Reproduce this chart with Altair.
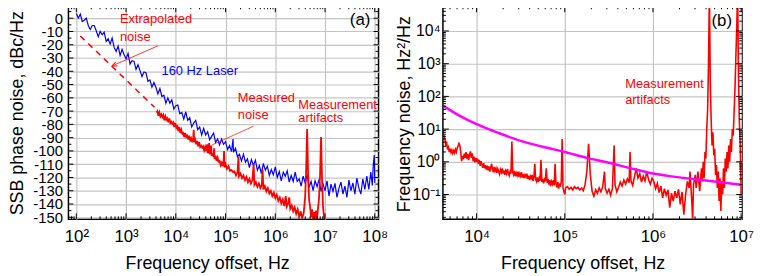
import altair as alt
import pandas as pd

FONT = "Liberation Sans"
GRID = "#c4c4c4"

# ---------------- Panel (a): SSB phase noise ----------------
A_BLUE_LF = [2.00, 2.04, 2.08, 2.12, 2.16, 2.20, 2.24, 2.28, 2.32, 2.36, 2.40, 2.44, 2.48, 2.52, 2.56, 2.60,
             2.64, 2.68, 2.72, 2.76, 2.80, 2.84, 2.88, 2.92, 2.96, 3.00, 3.04, 3.08, 3.12, 3.16, 3.20, 3.24,
             3.28, 3.32, 3.36, 3.40, 3.44, 3.48, 3.52, 3.56, 3.60, 3.64, 3.68, 3.72, 3.76, 3.80, 3.84, 3.88,
             3.92, 3.96, 4.00, 4.04, 4.08, 4.12, 4.16, 4.20, 4.24, 4.28, 4.32, 4.36, 4.40, 4.44, 4.48, 4.52,
             4.56, 4.60, 4.64, 4.68, 4.72, 4.76, 4.80, 4.84, 4.88, 4.92, 4.96, 5.00, 5.04, 5.08, 5.12, 5.15,
             5.16, 5.20, 5.24, 5.28, 5.32, 5.36, 5.40, 5.44, 5.48, 5.52, 5.56, 5.60, 5.64, 5.68, 5.72, 5.76,
             5.80, 5.84, 5.88, 5.92, 5.96, 6.00, 6.04, 6.08, 6.12, 6.16, 6.20, 6.24, 6.28, 6.32, 6.36, 6.40,
             6.44, 6.48, 6.52, 6.56, 6.60, 6.64, 6.68, 6.72, 6.76, 6.80, 6.84, 6.88, 6.92, 6.96, 7.00, 7.04,
             7.08, 7.12, 7.16, 7.20, 7.24, 7.28, 7.32, 7.36, 7.40, 7.44, 7.48, 7.52, 7.56, 7.60, 7.64, 7.68,
             7.72, 7.76, 7.80, 7.84, 7.88, 7.92, 7.95, 7.97, 7.99, 8.00]
A_BLUE_DB = [3.5, 0, 3, -2.5, -1.5, 0, -5.5, -8.5, -5.5, -5.5, -9.5, -14, -10, -12.5, -10.5, -17.5,
             -15.5, -19.5, -15, -22, -25, -21, -28, -23.5, -27.5, -30.5, -26.5, -34.5, -32, -32.5, -38.5, -35,
             -39.5, -44, -40.5, -41, -47.5, -46.5, -52, -48.5, -52, -57, -53, -59, -58, -64, -60, -64,
             -61.5, -68.5, -66, -65.5, -72, -71, -76, -70.5, -77, -75, -82, -79, -77, -84, -82, -88,
             -83, -88, -85.5, -91.5, -89, -86.5, -93.5, -91, -95.5, -91, -95, -93, -99, -96, -100.5, -91,
             -101, -98, -104.5, -102.5, -107.5, -102.5, -108.5, -106, -112.5, -106.5, -111, -107, -114.5, -111, -117, -109.5,
             -114.5, -111.5, -118.5, -114, -118, -112, -120, -115.5, -122.5, -116, -119, -115, -123.5, -118.5, -123, -116,
             -123, -121, -126.5, -119, -124, -118, -127, -123, -130, -122.5, -127, -121.5, -130.5, -125, -130, -122.5,
             -134, -125, -130.5, -124.5, -135, -128, -123.5, -132.5, -126.5, -135, -122, -130, -124, -132.5, -120.5, -128,
             -132.5, -121, -129, -119, -129, -116, -126, -110, -103, -124]

A_RED_LF = [3.61, 3.63, 3.65, 3.67, 3.69, 3.71, 3.73, 3.75, 3.77, 3.79, 3.81, 3.83, 3.85, 3.87, 3.89, 3.91,
            3.93, 3.95, 3.97, 3.99, 4.01, 4.03, 4.05, 4.07, 4.09, 4.11, 4.13, 4.15, 4.17, 4.19, 4.21, 4.23,
            4.25, 4.27, 4.29, 4.31, 4.33, 4.35, 4.36, 4.37, 4.39, 4.41, 4.43, 4.45, 4.47, 4.49, 4.51, 4.53,
            4.55, 4.57, 4.59, 4.61, 4.63, 4.64, 4.66, 4.67, 4.68, 4.70, 4.71, 4.72, 4.74, 4.76, 4.77, 4.78,
            4.80, 4.82, 4.84, 4.86, 4.88, 4.90, 4.92, 4.94, 4.96, 4.97, 4.98, 5.00, 5.03, 5.06, 5.09, 5.12,
            5.15, 5.18, 5.21, 5.24, 5.26, 5.27, 5.30, 5.33, 5.36, 5.39, 5.42, 5.45, 5.48, 5.51, 5.54, 5.565,
            5.58, 5.61, 5.64, 5.67, 5.70, 5.73, 5.745, 5.76, 5.79, 5.82, 5.85, 5.88, 5.91, 5.94, 5.97, 6.00,
            6.03, 6.06, 6.09, 6.12, 6.15, 6.18, 6.21, 6.23, 6.26, 6.28, 6.30, 6.33, 6.36, 6.39, 6.42, 6.45,
            6.48, 6.51, 6.54, 6.57, 6.60, 6.62, 6.64, 6.66, 6.68, 6.70, 6.72, 6.74, 6.76, 6.78, 6.80, 6.82,
            6.84, 6.86, 6.88, 6.90, 6.92, 6.94, 6.96, 6.98, 7.00]
A_RED_DB = [-71, -70, -73.5, -71, -74, -72.5, -74.5, -73, -77, -74, -76.5, -75.5, -78.5, -75.5, -79, -78,
            -79.5, -78.5, -82, -79, -82.5, -81.5, -85, -82, -86.5, -84, -87, -86.5, -89.5, -86.5, -89.5, -88.5,
            -91.5, -88.5, -92, -90.5, -93.5, -90.5, -84, -93.5, -91.5, -95, -92.5, -96.5, -93.5, -97, -96, -97.5,
            -96.5, -99.5, -97, -100, -95, -101.5, -99, -94, -102.5, -100, -96, -103, -102.5, -104.5, -98, -106,
            -103.5, -107.5, -105, -108, -107.5, -110.5, -108, -111.5, -109, -100, -112.5, -110, -113.5, -111.5, -115, -114.5,
            -116, -115.5, -118.5, -116, -104.5, -119, -117, -120.5, -118.5, -122, -119.5, -123.5, -121, -124.5, -122, -110,
            -125.5, -123.5, -127, -124.5, -128, -125.5, -114, -129, -126.5, -130.5, -128, -132, -130, -134, -131.5, -135.5,
            -133, -137.5, -135, -139.5, -136.5, -141.5, -134, -142, -139.5, -135, -143.5, -141, -145.5, -142.5, -147.5, -144,
            -149.5, -145.5, -151, -147, -135, -115, -83.5, -118, -137, -142, -150, -144, -152, -146, -154, -145,
            -151, -143, -135, -118, -89.5, -122, -142, -150, -158]

A_EXTRAP_LF = [2.08, 3.57]
A_EXTRAP_DB = [-13.4, -67.0]

A_XEXP = [2, 3, 4, 5, 6, 7, 8]
A_YTICKS = list(range(-150, 1, 10))

A_ANN_TEXT = ["Extrapolated", "noise", "160 Hz Laser", "Measured", "noise", "Measurement", "artifacts", "(a)"]
A_ANN_LF = [2.876, 2.876, 3.713, 5.247, 5.247, 6.462, 6.462, 7.498]
A_ANN_DB = [-3.7, -17.2, -42.5, -63.4, -76.1, -68.7, -78.4, -5.2]
A_ANN_COLOR = ["#ff0000", "#ff0000", "#0000ff", "#ff0000", "#ff0000", "#ff0000", "#ff0000", "#000000"]
A_ANN_SIZE = [13, 13, 13, 13, 13, 13, 13, 17]

A_ARROW_LF = [3.647, 2.717]
A_ARROW_DB = [-20.7, -36.0]
A_POINTER_LF = [5.566, 4.73]
A_POINTER_DB = [-81.3, -95.5]

# ---------------- Panel (b): frequency noise ----------------
B_RED_LF = [3.63, 3.64, 3.65, 3.66, 3.67, 3.68, 3.69, 3.70, 3.71, 3.72, 3.73, 3.74, 3.75, 3.76, 3.77, 3.78,
            3.79, 3.80, 3.81, 3.82, 3.83, 3.84, 3.85, 3.86, 3.87, 3.88, 3.89, 3.90, 3.91, 3.92, 3.93, 3.94,
            3.95, 3.96, 3.97, 3.98, 3.99, 4.00, 4.01, 4.02, 4.03, 4.04, 4.05, 4.06, 4.07, 4.08, 4.09, 4.10,
            4.11, 4.12, 4.13, 4.14, 4.15, 4.16, 4.17, 4.18, 4.19, 4.20, 4.21, 4.22, 4.23, 4.24, 4.25, 4.26,
            4.27, 4.28, 4.29, 4.30, 4.31, 4.32, 4.33, 4.34, 4.35, 4.36, 4.37, 4.38, 4.39, 4.40, 4.41, 4.42,
            4.43, 4.44, 4.45, 4.46, 4.47, 4.48, 4.49, 4.50, 4.51, 4.52, 4.53, 4.54, 4.55, 4.56, 4.57, 4.58,
            4.59, 4.60, 4.61, 4.62, 4.63, 4.64, 4.65, 4.66, 4.67, 4.68, 4.69, 4.70, 4.71, 4.72, 4.73, 4.74,
            4.75, 4.76, 4.77, 4.78, 4.79, 4.80, 4.81, 4.82, 4.83, 4.84, 4.85, 4.86, 4.87, 4.88, 4.89, 4.90,
            4.91, 4.92, 4.93, 4.94, 4.95, 4.96, 4.97, 4.98, 4.99, 5.00, 5.01, 5.03, 5.05, 5.07, 5.09, 5.11,
            5.13, 5.15, 5.17, 5.19, 5.21, 5.23, 5.25, 5.27, 5.29, 5.31, 5.33, 5.35, 5.37, 5.39, 5.41, 5.43,
            5.45, 5.46, 5.48, 5.50, 5.52, 5.54, 5.56, 5.57, 5.59, 5.61, 5.63, 5.65, 5.67, 5.69, 5.71, 5.73,
            5.74, 5.75, 5.77, 5.79, 5.81, 5.83, 5.85, 5.87, 5.89, 5.91, 5.93, 5.95, 5.97, 5.99, 6.01, 6.03,
            6.05, 6.07, 6.09, 6.11, 6.13, 6.15, 6.17, 6.19, 6.21, 6.23, 6.25, 6.27, 6.29, 6.31, 6.33, 6.35,
            6.37, 6.39, 6.41, 6.42, 6.44, 6.45, 6.46, 6.48, 6.49, 6.51, 6.53, 6.55, 6.56, 6.57, 6.58, 6.59,
            6.60, 6.61, 6.62, 6.63, 6.64, 6.65, 6.66, 6.67, 6.68, 6.69, 6.70, 6.71, 6.72, 6.73, 6.74, 6.75,
            6.76, 6.77, 6.78, 6.79, 6.80, 6.81, 6.82, 6.83, 6.84, 6.85, 6.86, 6.87, 6.88, 6.89, 6.90, 6.91,
            6.92, 6.93, 6.94, 6.95, 6.96, 6.97, 6.98, 6.99, 7.00]
B_RED_LS = [0.82, 0.70, 0.52, 0.58, 0.38, 0.45, 0.30, 0.40, 0.28, 0.36, 0.26, 0.34, 0.27, 0.38, 0.30, 0.42,
            0.48, 0.56, 0.50, 0.30, 0.02, 0.18, 0.08, 0.25, 0.12, 0.30, 0.10, 0.24, 0.05, 0.20, 0.32, 0.12,
            0.26, 0.02, 0.16, -0.02, 0.12, 0.00, 0.10, -0.06, 0.06, -0.12, 0.02, -0.08, -0.18, -0.04, -0.20, -0.10,
            -0.24, -0.12, -0.26, -0.14, -0.30, -0.18, -0.06, -0.22, -0.32, -0.16, -0.28, -0.20, -0.34, -0.22, -0.30, -0.38,
            -0.24, -0.32, -0.20, -0.36, -0.26, -0.40, -0.28, -0.36, -0.22, -0.34, -0.42, -0.30, -0.36, 0.62, -0.32, -0.40,
            -0.28, -0.44, -0.34, -0.42, -0.30, -0.46, -0.36, -0.44, -0.32, -0.48, -0.38, -0.50, -0.40, -0.46, -0.36, -0.52,
            -0.42, -0.56, -0.44, -0.50, -0.40, -0.58, -0.46, -0.06, -0.54, -0.60, -0.48, -0.62, -0.50, -0.58, 0.06, -0.62,
            -0.52, -0.66, -0.54, -0.60, -0.20, -0.64, -0.52, -0.70, -0.56, -0.74, -0.60, -0.68, -0.56, -0.72, -0.06, -0.66,
            -0.78, -0.62, -0.82, -0.66, -0.76, -0.62, 0.70, -0.80, -0.90, -1.00, -0.80, -0.76, -0.84, -0.78, -0.86, -0.76,
            -0.82, -0.78, -0.86, -0.80, -0.88, -0.70, -0.30, 0.55, -0.40, -0.90, -1.05, -0.86, -0.96, -0.80, -0.92, -0.76,
            -0.30, -0.82, -0.96, -0.84, -1.02, -0.82, 0.50, -0.70, -0.92, -0.78, -0.62, -0.74, -0.56, -0.68, -0.52, -0.64,
            0.30, -0.58, -0.72, -0.46, -0.20, -0.50, -0.36, -0.62, -0.44, -0.58, -0.30, -0.54, -0.68, -0.50, -0.60, -0.82,
            -0.66, -0.94, -0.74, -1.10, -0.82, -1.02, -0.86, -1.40, -0.96, -1.20, -0.90, -1.10, -0.84, -1.30, -0.92, -1.62,
            -1.00, -0.60, -0.80, -0.30, -1.20, -1.76, -0.70, -0.40, -0.80, -0.30, -0.90, -0.20, -0.60, 0.00, -0.50, 0.30,
            0.10, 1.00, 1.60, 3.00, 5.20, 2.40, 1.30, 0.50, 0.90, 0.20, 0.40, -0.40, -0.10, -0.80, -0.30, -1.20,
            -0.50, -1.50, -0.60, -1.00, -0.20, -0.80, 0.10, -0.30, 0.30, -0.20, 0.50, 0.00, 0.70, 0.30, 1.00, 0.80,
            1.50, 2.20, 3.20, 4.10, 5.20, 2.60, 1.20, 0.50, -1.00]

B_FIT_LF = [3.62, 3.80, 4.00, 4.25, 4.50, 4.75, 5.00, 5.25, 5.50, 5.75, 6.00, 6.25, 6.50, 6.75, 7.00]
B_FIT_LS = [1.71, 1.42, 1.15, 0.88, 0.64, 0.46, 0.30, 0.12, -0.03, -0.20, -0.36, -0.46, -0.54, -0.62, -0.70]

B_XEXP = [4, 5, 6, 7]
B_YEXP = [-1, 0, 1, 2, 3, 4]

B_ANN_TEXT = ["Measurement", "artifacts", "(b)"]
B_ANN_LF = [5.685, 5.685, 6.663]
B_ANN_LS = [2.27, 1.76, 4.15]
B_ANN_COLOR = ["#ff0000", "#ff0000", "#000000"]
B_ANN_SIZE = [13, 13, 17]

# ---------------- geometry ----------------
WA, HA = 313, 215
WB, HB = 302, 215
A_XDOM = [69.4, 1.19e8]
A_YDOM = [-151.5, 9.0]
B_XDOM = [4150, 1.026e7]
B_YDOM = [0.0175, 5.7e4]

SUP = {'0': '\u2070', '1': '\u00b9', '2': '\u00b2', '3': '\u00b3', '4': '\u2074', '5': '\u2075',
       '6': '\u2076', '7': '\u2077', '8': '\u2078', '9': '\u2079', '-': '\u207b'}


def log_expr(exps):
    s = ""
    for e in exps:
        lab = "10" + "".join(SUP[c] for c in str(e))
        s += f"datum.value < {10 ** (e + 0.5):.6g} ? '{lab}' : "
    return s + "''"


def p10(lst):
    return [10 ** v for v in lst]


def minor_log(lo, hi):
    out = []
    for n in range(-3, 9):
        for k in range(2, 10):
            v = k * 10 ** n
            if lo < v < hi:
                out.append(v)
    return out


def edge_ticks(values, scale, axis, orient, length, W, H):
    d = pd.DataFrame({"t": values})
    base = alt.Chart(d).mark_rule(color="black", strokeWidth=1)
    if orient == "bottom":
        return base.encode(x=alt.X("t:Q", scale=scale, axis=axis), y=alt.value(H), y2=alt.value(H - length))
    if orient == "top":
        return base.encode(x=alt.X("t:Q", scale=scale, axis=axis), y=alt.value(0), y2=alt.value(length))
    if orient == "left":
        return base.encode(y=alt.Y("t:Q", scale=scale, axis=axis), x=alt.value(0), x2=alt.value(length))
    return base.encode(y=alt.Y("t:Q", scale=scale, axis=axis), x=alt.value(W), x2=alt.value(W - length))


def axis(values, label_expr, title, label_size, label_pad, tx, ty, angle=None):
    kw = dict(values=values, labelExpr=label_expr, title=title,
              grid=True, gridColor=GRID, gridWidth=1.2, ticks=False, domain=False,
              labelFontSize=label_size, labelPadding=label_pad, labelFlush=False, labelOverlap=False,
              labelColor="black", titleColor="black", titleFontSize=18, titleFontWeight="normal",
              titleX=tx, titleY=ty, titleBaseline="alphabetic")
    if angle is not None:
        kw["titleAngle"] = angle
    return alt.Axis(**kw)


# ---------------- panel (a) ----------------
xa = alt.Scale(type="log", domain=A_XDOM, nice=False)
ya = alt.Scale(domain=A_YDOM, nice=False, zero=False)
xaxis_a = axis(p10(A_XEXP), log_expr(A_XEXP), "Frequency offset, Hz", 17, 9, 140, 50)
yaxis_a = axis(A_YTICKS, "'' + datum.value", "SSB phase noise, dBc/Hz", 15, 6, -46, 107.5, 270)


def dfa(lf, db):
    return pd.DataFrame({"f": p10(lf), "v": db})


enc_a = dict(x=alt.X("f:Q", scale=xa, axis=xaxis_a), y=alt.Y("v:Q", scale=ya, axis=yaxis_a))

blue = alt.Chart(dfa(A_BLUE_LF, A_BLUE_DB)).mark_line(color="#0000ff", strokeWidth=1.2, clip=True).encode(**enc_a)
red_a = alt.Chart(dfa(A_RED_LF, A_RED_DB)).mark_line(color="#ff0000", strokeWidth=1.8, clip=True).encode(**enc_a)
extrap = alt.Chart(dfa(A_EXTRAP_LF, A_EXTRAP_DB)).mark_line(color="#ff0000", strokeWidth=1.5,
                                                             strokeDash=[6, 5]).encode(**enc_a)
arrow = alt.Chart(dfa(A_ARROW_LF, A_ARROW_DB)).mark_line(color="#ff0000", strokeWidth=0.8).encode(**enc_a)
arrow_head = alt.Chart(dfa(A_ARROW_LF[1:], A_ARROW_DB[1:])).mark_point(
    shape="M -0.6 1.4 L 0 0 L 0.6 1.4", filled=False, color="#ff0000", strokeWidth=1, size=50,
    angle=246, opacity=1).encode(**enc_a)
pointer = alt.Chart(dfa(A_POINTER_LF, A_POINTER_DB)).mark_line(color="#ff0000", strokeWidth=0.7).encode(**enc_a)

ann_a = alt.Chart(pd.DataFrame({"f": p10(A_ANN_LF), "v": A_ANN_DB, "txt": A_ANN_TEXT,
                                "c": A_ANN_COLOR, "s": A_ANN_SIZE})).mark_text(
    align="left", baseline="alphabetic").encode(
    text="txt:N", color=alt.Color("c:N", scale=None), size=alt.Size("s:Q", scale=None), **enc_a)

a_xmaj = p10(A_XEXP)
a_xmin = minor_log(A_XDOM[0], A_XDOM[1])
a_ymaj = A_YTICKS
a_ymin = list(range(-145, 6, 10))

ticks_a = [
    edge_ticks(a_xmaj, xa, xaxis_a, "bottom", 6, WA, HA), edge_ticks(a_xmin, xa, xaxis_a, "bottom", 3, WA, HA),
    edge_ticks(a_xmaj, xa, xaxis_a, "top", 6, WA, HA), edge_ticks(a_xmin, xa, xaxis_a, "top", 3, WA, HA),
    edge_ticks(a_ymaj, ya, yaxis_a, "left", 5, WA, HA), edge_ticks(a_ymin, ya, yaxis_a, "left", 3, WA, HA),
    edge_ticks(a_ymaj, ya, yaxis_a, "right", 5, WA, HA), edge_ticks(a_ymin, ya, yaxis_a, "right", 3, WA, HA),
]

panel_a = alt.layer(blue, red_a, extrap, arrow, arrow_head, pointer, ann_a, *ticks_a).properties(width=WA, height=HA)

# ---------------- panel (b) ----------------
xb = alt.Scale(type="log", domain=B_XDOM, nice=False)
yb = alt.Scale(type="log", domain=B_YDOM, nice=False)
xaxis_b = axis(p10(B_XEXP), log_expr(B_XEXP), "Frequency offset, Hz", 17, 9, 141, 50)
yaxis_b = axis(p10(B_YEXP), log_expr(B_YEXP), "Frequency noise, Hz\u00b2/Hz", 16, 3, -34, 108.5, 270)


def dfb(lf, ls):
    return pd.DataFrame({"f": p10(lf), "v": p10(ls)})


enc_b = dict(x=alt.X("f:Q", scale=xb, axis=xaxis_b), y=alt.Y("v:Q", scale=yb, axis=yaxis_b))

red_b = alt.Chart(dfb(B_RED_LF, B_RED_LS)).mark_line(color="#ff0000", strokeWidth=1.6, clip=True).encode(**enc_b)
fit_b = alt.Chart(dfb(B_FIT_LF, B_FIT_LS)).mark_line(color="#ff00ff", strokeWidth=2.5, interpolate="monotone",
                                                      clip=True).encode(**enc_b)
ann_b = alt.Chart(pd.DataFrame({"f": p10(B_ANN_LF), "v": p10(B_ANN_LS), "txt": B_ANN_TEXT,
                                "c": B_ANN_COLOR, "s": B_ANN_SIZE})).mark_text(
    align="left", baseline="alphabetic").encode(
    text="txt:N", color=alt.Color("c:N", scale=None), size=alt.Size("s:Q", scale=None), **enc_b)

b_xmaj = p10(B_XEXP)
b_xmin = minor_log(B_XDOM[0], B_XDOM[1])
b_ymaj = p10(B_YEXP)
b_ymin = minor_log(B_YDOM[0], B_YDOM[1])

ticks_b = [
    edge_ticks(b_xmaj, xb, xaxis_b, "bottom", 6, WB, HB), edge_ticks(b_xmin, xb, xaxis_b, "bottom", 3, WB, HB),
    edge_ticks(b_xmaj, xb, xaxis_b, "top", 6, WB, HB), edge_ticks(b_xmin, xb, xaxis_b, "top", 3, WB, HB),
    edge_ticks(b_ymaj, yb, yaxis_b, "left", 6, WB, HB), edge_ticks(b_ymin, yb, yaxis_b, "left", 3, WB, HB),
    edge_ticks(b_ymaj, yb, yaxis_b, "right", 6, WB, HB), edge_ticks(b_ymin, yb, yaxis_b, "right", 3, WB, HB),
]

panel_b = alt.layer(red_b, fit_b, ann_b, *ticks_b).properties(width=WB, height=HB)

chart = alt.hconcat(panel_a, panel_b, spacing=65, bounds="flush").properties(
    padding={"left": 0, "top": -5, "right": 0, "bottom": 0}
).configure(font=FONT).configure_view(stroke="black", strokeWidth=1.5)

chart.save("out.html", embed_options={"renderer": "svg", "actions": False})
